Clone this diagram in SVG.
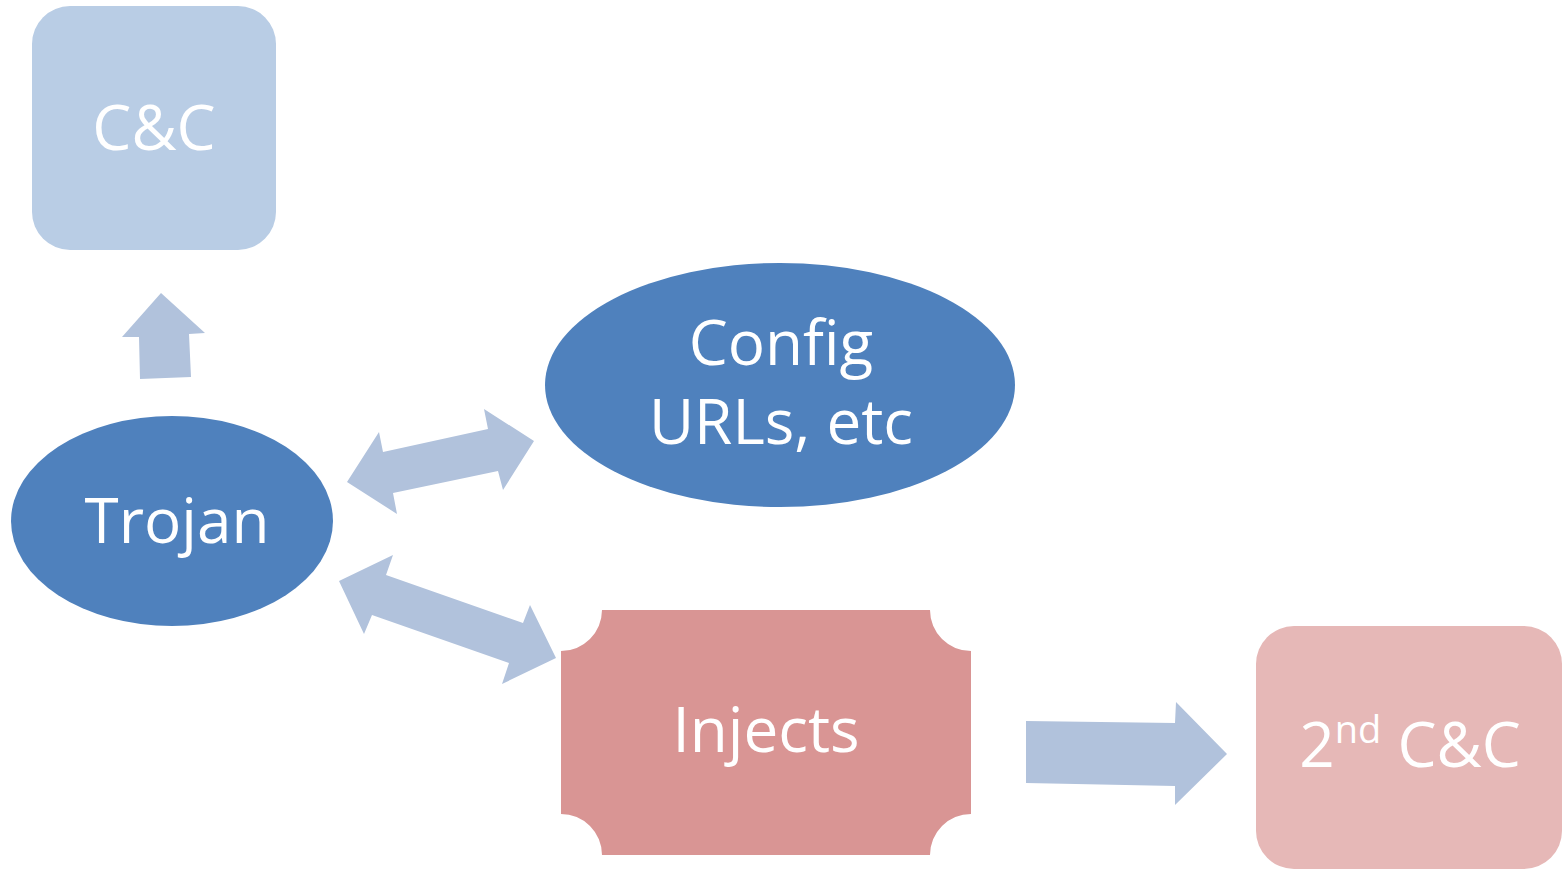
<svg xmlns="http://www.w3.org/2000/svg" width="1565" height="870" viewBox="0 0 1565 870">
<style>
.lbl{font-family:"Open Sans","Noto Sans","DejaVu Sans",sans-serif;font-size:62px;fill:#ffffff;text-anchor:middle}
.arr{fill:#B1C2DC}
</style>
<rect width="1565" height="870" fill="#ffffff"/>
<g id="connectors">
<polygon class="arr" points="161,293 205,333 189,334 191,377 140,379 139,337 122,337"/>
<polygon class="arr" points="347,482 379,432 383,452 488,429 484,409 534,441 503,490 498,471 393,493 397,514"/>
<polygon class="arr" points="339,581 393,555 386,575 523,623 530,605 556,658 502,684 509,663 372,615 364,634"/>
<polygon class="arr" points="1026,721 1175,723 1176,702 1227,754 1175,805 1175,786 1026,783"/>
</g>
<g id="cc">
<rect x="32" y="6" width="244" height="244" rx="38" fill="#B9CDE5"/>
<text class="lbl" x="154" y="150">C&amp;C</text>
</g>
<g id="config">
<ellipse cx="780" cy="385" rx="235" ry="122" fill="#4F81BD"/>
<text class="lbl" x="781" y="365">Config</text>
<text class="lbl" x="781" y="444">URLs, etc</text>
</g>
<g id="trojan">
<ellipse cx="172" cy="521" rx="161" ry="105" fill="#4F81BD"/>
<text class="lbl" x="177" y="543">Trojan</text>
</g>
<g id="injects">
<path d="M602 610 L930 610 A41 41 0 0 0 971 651 L971 814 A41 41 0 0 0 930 855 L602 855 A41 41 0 0 0 561 814 L561 651 A41 41 0 0 0 602 610 Z" fill="#D99594"/>
<text class="lbl" x="766" y="752">Injects</text>
</g>
<g id="cc2">
<rect x="1256" y="626" width="306" height="243" rx="38" fill="#E6B8B7"/>
<text class="lbl" x="1410" y="767">2<tspan font-size="38" dy="-24">nd</tspan><tspan dy="24"> C&amp;C</tspan></text>
</g>
</svg>
